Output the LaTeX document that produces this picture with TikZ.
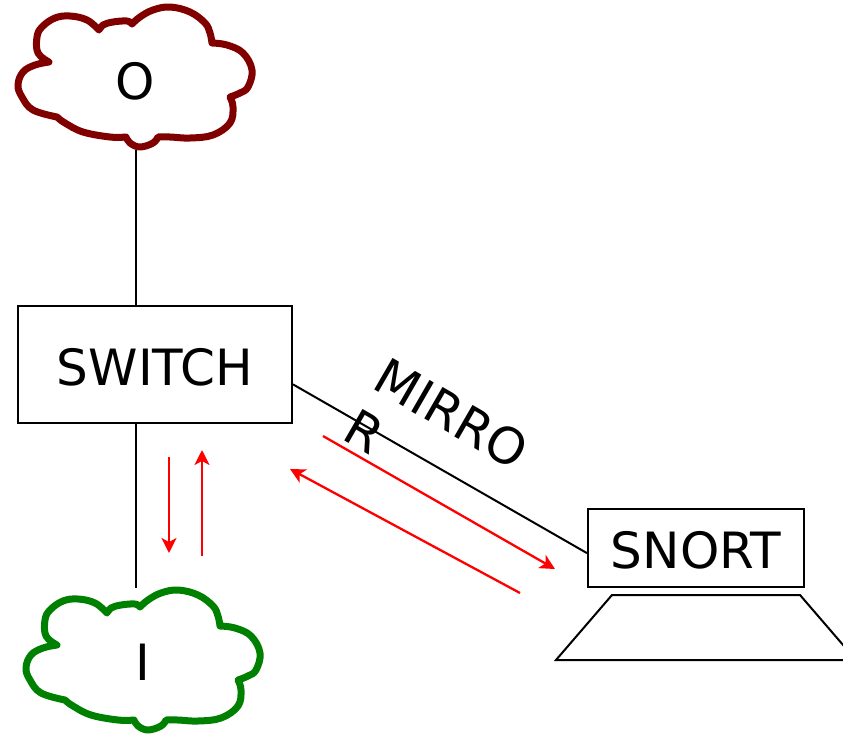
\documentclass[tikz,border=0pt]{standalone}
\usepackage{fontspec}
\setmainfont{DejaVu Sans}
\usetikzlibrary{arrows.meta,calc}
\definecolor{cloudred}{RGB}{128,0,0}
\definecolor{cloudgreen}{RGB}{0,128,0}
\tikzset{
  cloudpic/.pic={
    \draw[line width=7pt, line join=round, draw=#1]
      plot[smooth,tension=0.65] coordinates {(49,62) (38,53) (37,37) (42,27) (55,18) (70,16) (87,20) (99,30)}
      -- plot[smooth,tension=0.65] coordinates {(99,30) (103,25) (113,22) (127,21) (132,24)}
      -- plot[smooth,tension=0.65] coordinates {(132,24) (140,17) (153,10) (170,7) (190,12) (205,23) (210,33) (212,43)}
      -- plot[smooth,tension=0.65] coordinates {(212,43) (227,45) (243,53) (252,70) (248,87) (240,93) (230,97)}
      -- plot[smooth,tension=0.65] coordinates {(230,97) (233,107) (230,123) (213,135) (190,138) (170,137) (158,137)}
      -- plot[smooth,tension=0.65] coordinates {(158,137) (153,143) (140,147) (130,143) (126,137)}
      -- plot[smooth,tension=0.65] coordinates {(126,137) (110,137) (83,132) (65,123) (57,117)}
      -- plot[smooth,tension=0.65] coordinates {(57,117) (33,110) (22,97) (18,85) (23,72) (35,65) (49,62)}
      -- cycle;
  },
  cloudbox/.style={inner sep=0pt, text height=40pt, text depth=0pt, font=\fontsize{50}{60}\selectfont},
  devbox/.style={draw, line width=2pt, inner sep=0pt, text height=41pt, text depth=0pt, font=\fontsize{50}{60}\selectfont},
  link/.style={line width=2pt},
  flow/.style={draw=red, line width=2.3pt, -{Stealth[length=15pt,width=15pt,inset=4pt]}},
}
\begin{document}
\begin{tikzpicture}[x=1pt,y=-1pt]
\useasboundingbox (0,0) rectangle (843,734);
\clip (0,0) rectangle (843,734);
% clouds
\pic at (0,0) {cloudpic=cloudred};
\pic at (8,583) {cloudpic=cloudgreen};
\node[cloudbox, minimum width=235pt, minimum height=142pt] (Ocloud) at (135.5,79) {O};
\node[cloudbox, minimum width=238pt, minimum height=144pt] (Icloud) at (143,660) {I};
% devices
\node[devbox, minimum width=274pt, minimum height=117pt] (switch) at (155,364.5) {SWITCH};
\node[devbox, minimum width=216pt, minimum height=78pt] (snort) at (696,548) {SNORT};
\draw[line width=2pt, line join=miter] (612,595) -- (800,595) -- (856,660) -- (556,660) -- cycle;
% links
\draw[link] (Ocloud.south) -- (Ocloud.south |- switch.north);
\draw[link] (Ocloud.south |- switch.south) -- (Ocloud.south |- Icloud.north);
\draw[link] ($(switch.north east)!0.667!(switch.south east)$) -- ($(snort.north west)!0.564!(snort.south west)$);
\node[rotate=-30, inner sep=0pt, align=left, font=\fontsize{50}{59}\selectfont] (mirror) at (437,439) {MIRRO\\R};
% traffic arrows
\coordinate (d1) at (169,457); \coordinate (d2) at (169,553);
\coordinate (u1) at (202,556); \coordinate (u2) at (202,450);
\coordinate (m1) at (323,436); \coordinate (m2) at (555,569);
\coordinate (r1) at (520,593); \coordinate (r2) at (290,469);
\draw[flow] (d1) -- (d2);
\draw[flow] (u1) -- (u2);
\draw[flow] (m1) -- (m2);
\draw[flow] (r1) -- (r2);
\end{tikzpicture}
\end{document}
